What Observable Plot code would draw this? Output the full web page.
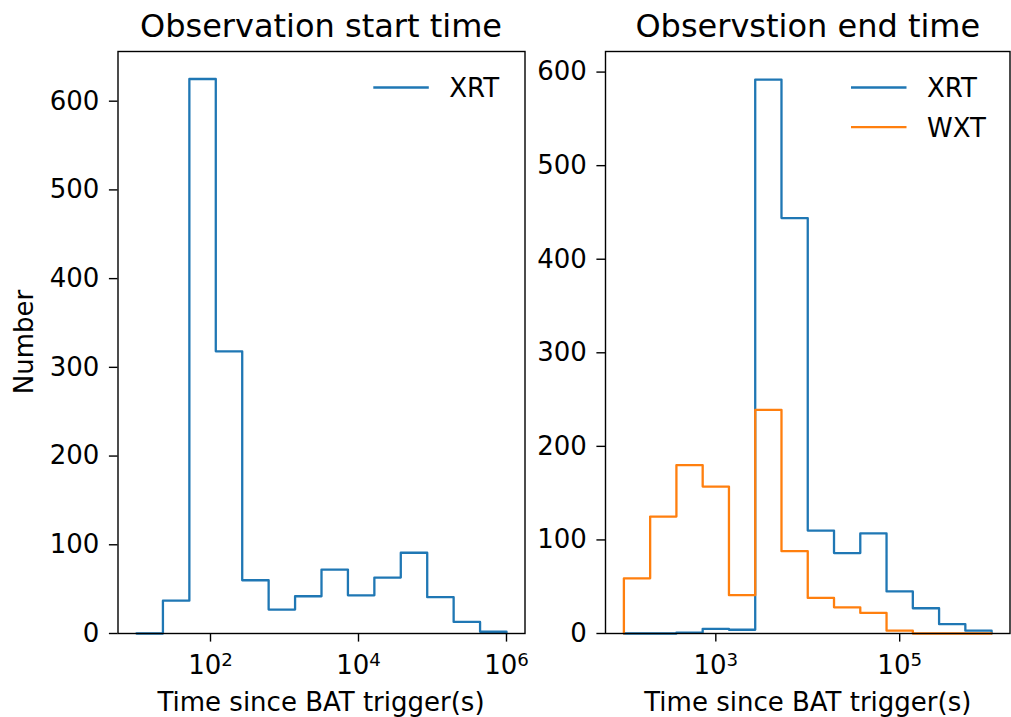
<!DOCTYPE html>
<html><head><meta charset="utf-8">
<script src="https://cdn.jsdelivr.net/npm/d3@7"></script>
<script src="https://cdn.jsdelivr.net/npm/@observablehq/plot@0.6"></script>
<style>
body{margin:0;background:#fff;}
#wrap{position:relative;width:1011px;height:717px;overflow:hidden;font-family:"DejaVu Sans";background:#fff;}
#wrap svg{position:absolute;top:0;}
</style></head><body><div id="wrap"></div>
<script>
// ---- data ----
const titles = ["Observation start time", "Observstion end time"];
const xLabel = "Time since BAT trigger(s)";
const yLabel = "Number";
// histogram bin edges as log10 exponents
const startEdgesExp = [1, 1.3571, 1.7143, 2.0714, 2.4286, 2.7857, 3.1429, 3.5, 3.8571, 4.2143, 4.5714, 4.9286, 5.2857, 5.6429, 6];
const startXRT = [0, 37, 625, 318, 60, 27, 42, 72, 43, 63, 91, 41, 13, 2];
const endEdgesExp = [2, 2.2857, 2.5714, 2.8571, 3.1429, 3.4286, 3.7143, 4, 4.2857, 4.5714, 4.8571, 5.1429, 5.4286, 5.7143, 6];
const endXRT = [0, 0, 1, 5, 4, 592, 444, 110, 86, 107, 45, 27, 10, 3];
const endWXT = [59, 125, 180, 157, 41, 239, 88, 38, 28, 22, 3, 0, 0, 0];
const startTicks = [1e2, 1e4, 1e6];
const endTicks = [1e3, 1e5];
const yTicks = [0, 100, 200, 300, 400, 500, 600];
const seriesNames = ["XRT", "WXT"];
const colors = ["#1f77b4", "#ff7f0e"];

// ---- helpers ----
function steps(edgesExp, counts, series) {
  const pts = [{x: 10 ** edgesExp[0], y: 0, series}];
  counts.forEach((c, i) => pts.push({x: 10 ** edgesExp[i], y: c, series}));
  pts.push({x: 10 ** edgesExp[counts.length], y: 0, series});
  return pts;
}
const sup = d => "10^" + Math.round(Math.log10(d));
const FS = 26;
function panel({width, ml, mr, xdom, ymax, ticks, lines}) {
  const svg = Plot.plot({
    width, height: 717,
    marginLeft: ml, marginRight: mr, marginTop: 51, marginBottom: 84,
    style: {fontFamily: "DejaVu Sans", fontSize: FS + "px", color: "black", background: "transparent", overflow: "visible"},
    x: {type: "log", domain: xdom},
    y: {domain: [0, ymax]},
    marks: [
      ...lines.map(l => Plot.line(l.data, {x: "x", y: "y", curve: "step-after", stroke: l.color, strokeWidth: 2.3})),
      Plot.frame({stroke: "black", strokeWidth: 1.4}),
      Plot.axisX({ticks, tickFormat: sup, tickSize: 8.6, tickPadding: 13, strokeWidth: 1.4, label: null}),
      Plot.axisY({ticks: yTicks, tickSize: 8.6, tickPadding: 10, strokeWidth: 1.4, label: null})
    ]
  });
  d3.select(svg).selectAll('g[aria-label="x-axis tick label"] text').each(function() {
    const [b, e] = this.textContent.split("^");
    this.textContent = "";
    d3.select(this).append("tspan").text(b);
    d3.select(this).append("tspan").attr("dy", "-7.5px").attr("font-size", "0.7em").text(e);
  });
  return svg;
}

const wrap = document.getElementById("wrap");
const p1 = panel({
  width: 540, ml: 117.5, mr: 15.5,
  xdom: [10 ** 0.75, 10 ** 6.25], ymax: 656, ticks: startTicks,
  lines: [{data: steps(startEdgesExp, startXRT, "XRT"), color: colors[0]}]
});
p1.style.left = "0px";
wrap.appendChild(p1);
const p2 = panel({
  width: 471, ml: 65, mr: 1.5,
  xdom: [10 ** 1.8, 10 ** 6.2], ymax: 622, ticks: endTicks,
  lines: [
    {data: steps(endEdgesExp, endXRT, "XRT"), color: colors[0]},
    {data: steps(endEdgesExp, endWXT, "WXT"), color: colors[1]}
  ]
});
p2.style.left = "540px";
wrap.appendChild(p2);

// ---- overlay text: titles, axis labels, legends ----
const ov = d3.create("svg").attr("width", 1011).attr("height", 717)
  .style("left", "0px").style("pointer-events", "none")
  .attr("font-family", "DejaVu Sans").attr("fill", "black");
const centers = [321, 807.8];
titles.forEach((t, i) => ov.append("text").attr("x", centers[i]).attr("y", 37)
  .attr("text-anchor", "middle").attr("font-size", 32).text(t));
centers.forEach(c => ov.append("text").attr("x", c).attr("y", 711)
  .attr("text-anchor", "middle").attr("font-size", FS).text(xLabel));
ov.append("text").attr("transform", "translate(33,342) rotate(-90)")
  .attr("text-anchor", "middle").attr("font-size", FS).text(yLabel);
// legends
const legends = [
  {x0: 373.3, items: [0]},
  {x0: 851, items: [0, 1]}
];
legends.forEach(lg => lg.items.forEach((k, j) => {
  const y = 87.5 + j * 39.7;
  ov.append("line").attr("x1", lg.x0).attr("x2", lg.x0 + 55.5).attr("y1", y).attr("y2", y)
    .attr("stroke", colors[k]).attr("stroke-width", 2.3);
  ov.append("text").attr("x", lg.x0 + 76).attr("y", y + 9.5).attr("font-size", FS).text(seriesNames[k]);
}));
wrap.appendChild(ov.node());
</script></body></html>
